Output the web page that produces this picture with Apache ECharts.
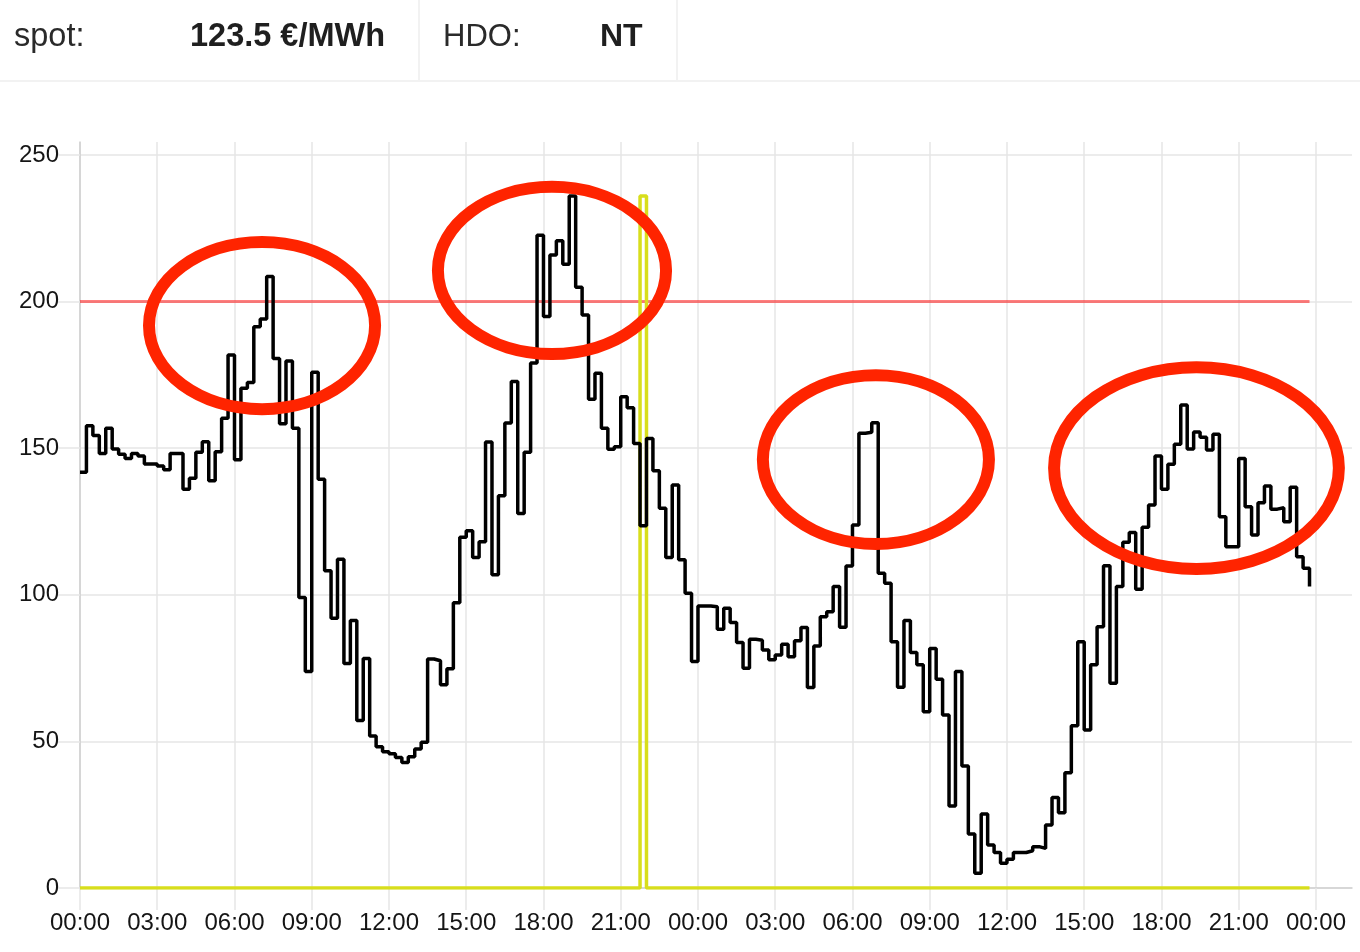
<!DOCTYPE html>
<html>
<head>
<meta charset="utf-8">
<script src="https://cdn.jsdelivr.net/npm/echarts@6/dist/echarts.min.js"></script>
<style>
  html, body { margin: 0; padding: 0; background: #fff; }
  #wrap { position: relative; width: 1360px; height: 952px; overflow: hidden; }
  #chart { position: absolute; left: 0; top: 0; width: 1360px; height: 952px; }
  .hdr { position: absolute; left: 0; top: 0; width: 1360px; height: 82px; border-bottom: 2px solid #f2f2f2; box-sizing: border-box; z-index: 2; }
  .cell { position: absolute; top: 0; height: 80px; border-right: 2px solid #f2f2f2; box-sizing: border-box; }
  .t { position: absolute; top: 20px; font-family: "Liberation Sans", Arial, sans-serif; font-size: 31px; line-height: 31px; color: #2a2a2a; white-space: nowrap; }
  .b { font-weight: bold; color: #1f1f1f; }
</style>
</head>
<body>
<div id="wrap">
  <div id="chart"></div>
  <div class="hdr">
    <div class="cell" style="left:0;width:420px;"></div>
    <div class="cell" style="left:420px;width:258px;"></div>
    <div class="t" style="left:14px;font-size:32.5px;top:20px;">spot:</div>
    <div class="t b" style="left:190px;font-size:32.5px;top:20px;">123.5 €/MWh</div>
    <div class="t" style="left:443px;">HDO:</div>
    <div class="t b" style="left:600px;font-size:32px;top:20px;">NT</div>
  </div>
</div>
<script>
// ---- data (15-minute spot prices, €/MWh) ----
const slotHours = 0.25;
const day1Prices = [
  141.8, 157.6, 154.3, 148.2, 156.8, 149.7, 147.9, 146.5,
  148.2, 147.3, 144.6, 144.6, 143.9, 142.6, 148.2, 148.2,
  136.0, 139.7, 148.6, 152.2, 138.9, 148.8, 160.2, 181.8,
  146.0, 170.4, 172.4, 191.4, 194.0, 208.5, 180.6, 158.3,
  179.7, 156.8, 99.1, 73.8, 175.9, 139.4, 108.2, 92.0,
  112.1, 76.6, 91.2, 57.1, 78.3, 51.8, 48.2, 46.5,
  45.8, 44.5, 42.8, 44.8, 47.4, 49.7, 78.1, 77.5,
  69.3, 74.8, 97.3, 119.6, 121.8, 112.7, 118.1, 152.1,
  106.8, 133.8, 158.6, 172.7, 127.7, 148.6, 179.0, 222.6,
  194.9, 215.9, 220.7, 212.7, 236.0, 204.9, 195.4, 166.7,
  175.5, 156.8, 149.6, 150.5, 167.5, 163.8, 151.6, 123.5,
  153.3, 142.3, 129.5, 112.7, 137.4, 111.9, 100.5, 77.2
];
const day2Prices = [
  96.2, 96.2, 95.9, 88.2, 95.4, 90.5, 83.7, 74.9,
  84.8, 84.5, 81.2, 77.8, 79.5, 83.1, 78.9, 84.3,
  88.8, 68.4, 82.5, 92.5, 94.2, 102.8, 88.9, 109.8,
  123.8, 155.1, 155.4, 158.7, 107.3, 103.9, 84.0, 68.5,
  91.2, 80.3, 76.1, 60.1, 81.7, 71.2, 59.0, 28.0,
  73.8, 41.6, 18.4, 5.0, 25.2, 14.7, 12.1, 8.4,
  9.8, 12.1, 12.1, 12.7, 14.1, 13.5, 21.5, 30.9,
  25.7, 39.3, 55.3, 84.0, 53.9, 76.1, 89.1, 109.9,
  69.8, 102.8, 117.9, 121.2, 101.9, 123.0, 130.6, 147.3,
  136.0, 144.5, 151.3, 164.7, 149.7, 155.5, 153.7, 149.4,
  154.7, 126.6, 116.4, 116.4, 146.5, 130.0, 120.4, 131.4,
  137.1, 129.2, 129.7, 124.9, 136.7, 113.0, 109.0, 102.8
];
const thresholdValue = 200;          // red limit line
const currentSlotIndex = 87;         // 21:45 on day 1 (yellow "now" marker)
const currentMarkerValue = 236;      // marker height (max of prices)
const yTicks = [0, 50, 100, 150, 200, 250];
const xTicks = [0, 3, 6, 9, 12, 15, 18, 21, 24, 27, 30, 33, 36, 39, 42, 45, 48];
const xLabelText = ['00:00','03:00','06:00','09:00','12:00','15:00','18:00','21:00',
                    '00:00','03:00','06:00','09:00','12:00','15:00','18:00','21:00','00:00'];
// hand-drawn annotation ellipses: [centerHour, centerValue, radiusHours, radiusValue]
const annotations = [
  [7.07, 191.8, 4.39, 28.5],
  [18.33, 210.6, 4.43, 28.5],
  [30.91, 146.1, 4.39, 28.8],
  [43.36, 143.2, 5.53, 34.4]
];

// ---- build series data ----
const prices = day1Prices.concat(day2Prices);
const priceData = prices.map((v, i) => [i * slotHours, v]);
const limitData = prices.map((v, i) => [i * slotHours, thresholdValue]);
const nowData = prices.map((v, i) => [i * slotHours, i === currentSlotIndex ? currentMarkerValue : 0]);

const FONT = '"Liberation Sans", Arial, sans-serif';
const GRID_C = '#e6e6e6';
const chart = echarts.init(document.getElementById('chart'), null, { renderer: 'canvas' });

chart.setOption({
  animation: false,
  grid: { left: 80, right: 8, top: 142, bottom: 64, containLabel: false },
  xAxis: {
    type: 'value', min: 0, max: 49.4,
    axisLine: { show: true, onZero: false, lineStyle: { color: '#cfcfcf', width: 1.5 } },
    axisTick: { show: true, length: 22, customValues: xTicks, lineStyle: { color: GRID_C, width: 1.5 } },
    splitLine: { show: true, lineStyle: { color: GRID_C, width: 1.5 } },
    axisLabel: {
      customValues: xTicks, margin: 23, fontSize: 24, color: '#151515', fontFamily: FONT,
      formatter: v => xLabelText[xTicks.indexOf(Math.round(v))]
    }
  },
  yAxis: {
    type: 'value', min: 0, max: 254.4,
    axisLine: { show: true, lineStyle: { color: '#cfcfcf', width: 1.5 } },
    axisTick: { show: true, length: 22, customValues: yTicks, lineStyle: { color: GRID_C, width: 1.5 } },
    splitLine: { show: true, lineStyle: { color: GRID_C, width: 1.5 } },
    axisLabel: { customValues: yTicks, margin: 21, fontSize: 24, color: '#151515', fontFamily: FONT,
      padding: [4, 0, 0, 0] }
  },
  series: [
    { name: 'limit', type: 'line', step: 'end', data: limitData, showSymbol: false, z: 2,
      lineStyle: { color: 'rgba(255,0,0,0.5)', width: 3 } },
    { name: 'now', type: 'line', step: 'end', data: nowData, showSymbol: false, z: 3,
      lineStyle: { color: '#d8de1c', width: 3.5 } },
    { name: 'spot', type: 'line', step: 'end', data: priceData, showSymbol: false, z: 4,
      lineStyle: { color: '#000', width: 3.5 } }
  ]
});

const graphics = annotations.map(a => {
  const c = chart.convertToPixel({ gridIndex: 0 }, [a[0], a[1]]);
  const e = chart.convertToPixel({ gridIndex: 0 }, [a[0] + a[2], a[1] + a[3]]);
  return {
    type: 'ellipse', z: 100,
    shape: { cx: c[0], cy: c[1], rx: Math.abs(e[0] - c[0]), ry: Math.abs(c[1] - e[1]) },
    style: { fill: 'none', stroke: '#ff2400', lineWidth: 12 }
  };
});
chart.setOption({ graphic: graphics });
</script>
</body>
</html>
